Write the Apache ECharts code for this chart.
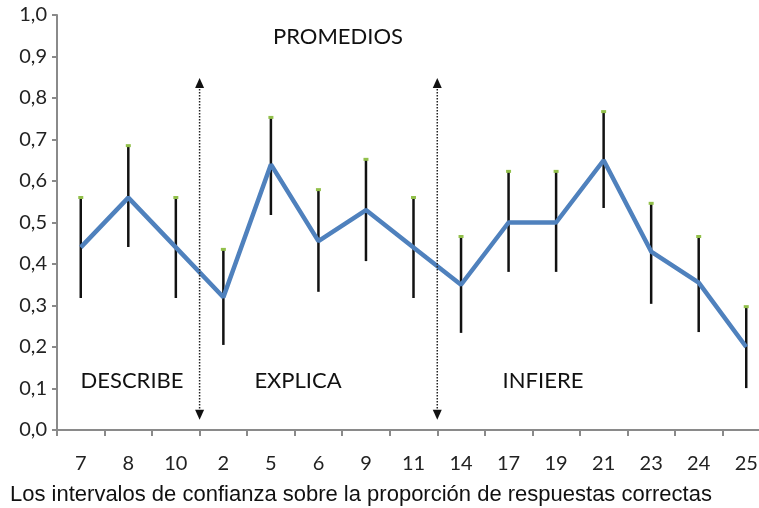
<!DOCTYPE html>
<html>
<head>
<meta charset="utf-8">
<script src="https://cdn.jsdelivr.net/npm/echarts@6/dist/echarts.min.js"></script>
<style>html,body{margin:0;padding:0;background:#fff;overflow:hidden}#c{width:770px;height:508px}</style>
</head>
<body>
<div id="c"></div>
<script>
var categories = ['7','8','10','2','5','6','9','11','14','17','19','21','23','24','25'];
var means = [0.44,0.56,0.44,0.32,0.64,0.455,0.53,0.44,0.35,0.50,0.50,0.65,0.43,0.355,0.20];
var lower = [0.318,0.441,0.318,0.205,0.518,0.333,0.407,0.318,0.234,0.381,0.381,0.535,0.304,0.236,0.101];
var upper = [0.559,0.684,0.559,0.434,0.752,0.578,0.651,0.559,0.465,0.622,0.622,0.766,0.545,0.465,0.296];
var yTicks = [0,0.1,0.2,0.3,0.4,0.5,0.6,0.7,0.8,0.9,1.0];
var dividers = [[2,3],[7,8]]; // between category indices
var arrowRange = [0.025, 0.848];
var sectionLabels = ['DESCRIBE','EXPLICA','INFIERE'];
var titleText = 'PROMEDIOS';
var xTitle = 'Los intervalos de confianza sobre la proporción de respuestas correctas';

var FONT = 'Lato, "Open Sans", sans-serif';
var FONT2 = '"Liberation Sans", Arial, sans-serif';
var chart = echarts.init(document.getElementById('c'), null, {renderer:'canvas'});

var errData = categories.map(function(c,i){ return [i, lower[i], upper[i]]; });

chart.setOption({
  animation:false,
  grid:{left:57, right:0, top:15, bottom:78},
  xAxis:{
    type:'category', data:categories, boundaryGap:true,
    axisLine:{lineStyle:{color:'#8a8a8a', width:2}},
    axisTick:{show:true, length:6, lineStyle:{color:'#8a8a8a', width:2}, interval:0},
    axisLabel:{color:'#222', fontSize:20, fontFamily:FONT, margin:24, interval:0}
  },
  yAxis:{
    type:'value', min:0, max:1, interval:0.1,
    axisLine:{show:true, lineStyle:{color:'#8a8a8a', width:2}},
    axisTick:{show:true, length:5, lineStyle:{color:'#8a8a8a', width:2}},
    splitLine:{show:false},
    axisLabel:{color:'#222', fontSize:20, fontFamily:FONT, margin:10,
      formatter:function(v){ return v.toFixed(1).replace('.', ','); }}
  },
  graphic:[
    {type:'text', style:{text:titleText, x:338, y:37, fill:'#111', font:'22px ' + FONT, textAlign:'center', textVerticalAlign:'middle'}},
    {type:'text', style:{text:sectionLabels[0], x:132, y:381, fill:'#111', font:'22px ' + FONT, textAlign:'center', textVerticalAlign:'middle'}},
    {type:'text', style:{text:sectionLabels[1], x:298, y:381, fill:'#111', font:'22px ' + FONT, textAlign:'center', textVerticalAlign:'middle'}},
    {type:'text', style:{text:sectionLabels[2], x:543, y:381, fill:'#111', font:'22px ' + FONT, textAlign:'center', textVerticalAlign:'middle'}},
    {type:'text', style:{text:xTitle, x:10, y:495, fill:'#111', font:'22px ' + FONT2, textAlign:'left', textVerticalAlign:'middle'}}
  ],
  series:[
    {
      type:'custom', z:2,
      data:errData,
      renderItem:function(params, api){
        var i = api.value(0);
        var lo = api.coord([i, api.value(1)]);
        var hi = api.coord([i, api.value(2)]);
        return {type:'group', children:[
          {type:'line', shape:{x1:lo[0], y1:lo[1], x2:hi[0], y2:hi[1]}, style:{stroke:'#111', lineWidth:2.5}},
          {type:'rect', shape:{x:hi[0]-2.5, y:hi[1]-2, width:5, height:3}, style:{fill:'#92c04b'}}
        ]};
      }
    },
    {
      type:'line', z:3, data:means, symbol:'none',
      lineStyle:{color:'#4f81bd', width:4.5}
    },
    {
      type:'custom', z:4,
      data:dividers,
      renderItem:function(params, api){
        var a = api.value(0), b = api.value(1);
        var t1 = api.coord([a, arrowRange[1]]), t2 = api.coord([b, arrowRange[1]]);
        var b1 = api.coord([a, arrowRange[0]]);
        var x = (t1[0] + t2[0]) / 2;
        var yt = t1[1], yb = b1[1];
        return {type:'group', children:[
          {type:'line', shape:{x1:x, y1:yt+8, x2:x, y2:yb-8}, style:{stroke:'#222', lineWidth:1.5, lineDash:[1.5,1.5]}},
          {type:'polygon', shape:{points:[[x,yt],[x-4.5,yt+10],[x+4.5,yt+10]]}, style:{fill:'#111'}},
          {type:'polygon', shape:{points:[[x,yb],[x-4.5,yb-10],[x+4.5,yb-10]]}, style:{fill:'#111'}}
        ]};
      }
    }
  ]
});
</script>
</body>
</html>
